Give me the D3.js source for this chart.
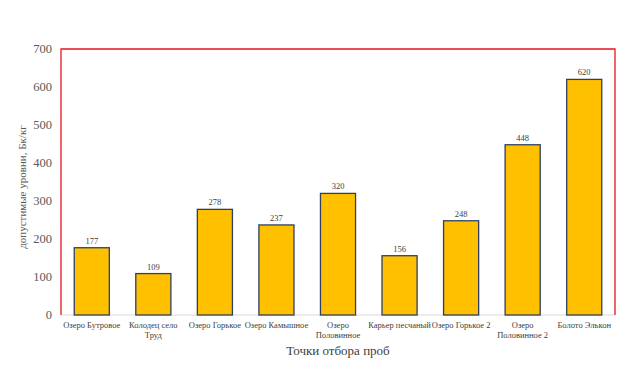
<!DOCTYPE html>
<html><head><meta charset="utf-8">
<script src="https://cdn.jsdelivr.net/npm/d3@7"></script>
<style>body{margin:0;background:#fff}svg{display:block}</style>
</head><body>
<script>
const categories = [["Озеро Бутровое"],["Колодец село","Труд"],["Озеро Горькое"],["Озеро Камышное"],["Озеро","Половинное"],["Карьер песчаный"],["Озеро Горькое 2"],["Озеро","Половинное 2"],["Болото Элькон"]];
const values = [177,109,278,237,320,156,248,448,620];
const yTicks = [0,100,200,300,400,500,600,700];
const xTitle = "Точки отбора проб";
const yTitle = "допустимые уровни, Бк/кг";

const W=631,H=374;
const m={l:61,r:16,t:49,b:59};
const svg=d3.select("body").append("svg").attr("width",W).attr("height",H);
const x=d3.scaleBand().domain(categories.map((d,i)=>i)).range([m.l,W-m.r]).paddingInner(0.43).paddingOuter(0.215);
const y=d3.scaleLinear().domain([0,700]).range([H-m.b,m.t]);
const font="'Liberation Serif','Times New Roman',serif";

// y tick labels
svg.append("g").selectAll("text").data(yTicks).join("text")
 .attr("x",m.l-9).attr("y",d=>y(d)).attr("dy","0.35em").attr("text-anchor","end")
 .attr("font-family",font).attr("font-size",12.5).attr("fill","#595959").text(d=>d);

// bottom axis line
svg.append("line").attr("x1",m.l).attr("x2",W-m.r).attr("y1",y(0)).attr("y2",y(0))
 .attr("stroke","#d9d9d9").attr("stroke-width",1);

// bars
svg.append("g").selectAll("rect").data(values).join("rect")
 .attr("x",(d,i)=>x(i)).attr("width",x.bandwidth())
 .attr("y",d=>y(d)).attr("height",d=>y(0)-y(d))
 .attr("fill","#FFC000").attr("stroke","#2F3F63").attr("stroke-width",1.3);

// value labels
svg.append("g").selectAll("text").data(values).join("text")
 .attr("x",(d,i)=>x(i)+x.bandwidth()/2).attr("y",d=>y(d)-4).attr("text-anchor","middle")
 .attr("font-family",font).attr("font-size",8.5).attr("fill","#404040").text(d=>d);

// category labels
const cg=svg.append("g");
categories.forEach((lines,i)=>{
  const t=cg.append("text").attr("x",x(i)+x.bandwidth()/2).attr("y",y(0)+13)
   .attr("text-anchor","middle").attr("font-family",font).attr("font-size",8.5).attr("fill","#404040");
  lines.forEach((l,j)=>t.append("tspan").attr("x",x(i)+x.bandwidth()/2).attr("dy",j?10:0).text(l));
});

// plot area border (red) left, top, right
svg.append("path").attr("d",`M${m.l},${y(0)}V${m.t}H${W-m.r}V${y(0)}`)
 .attr("fill","none").attr("stroke","#E8141B").attr("stroke-width",1.3);

// axis titles
svg.append("text").attr("x",(m.l+W-m.r)/2).attr("y",355).attr("text-anchor","middle")
 .attr("font-family",font).attr("font-size",13).attr("fill","#404040").text(xTitle);
svg.append("text").attr("transform",`translate(26,${(m.t+y(0))/2+5}) rotate(-90)`).attr("text-anchor","middle")
 .attr("font-family",font).attr("font-size",11).attr("fill","#595959").text(yTitle);
</script>
</body></html>
